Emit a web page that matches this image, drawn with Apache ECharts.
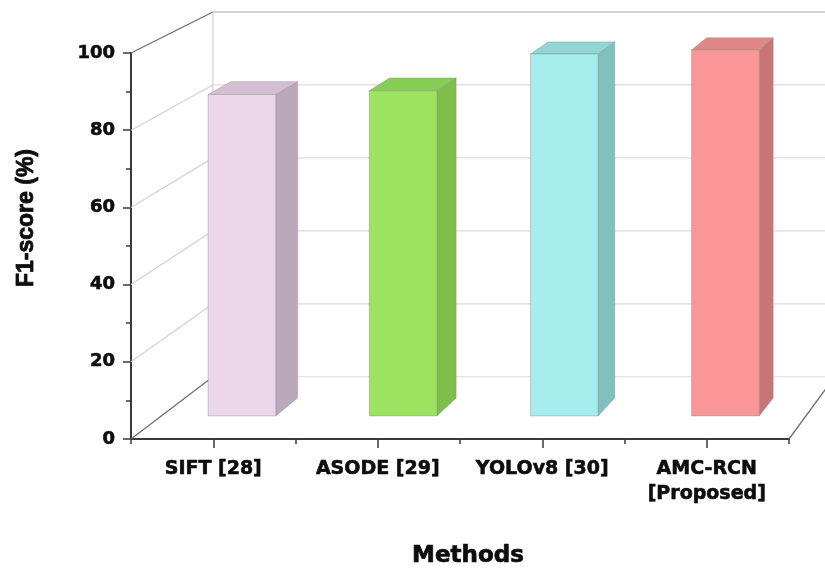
<!DOCTYPE html>
<html>
<head>
<meta charset="utf-8">
<script src="https://cdn.jsdelivr.net/npm/echarts@6/dist/echarts.min.js"></script>
<style>
  html, body { margin: 0; padding: 0; background: #ffffff; }
  #chart { width: 825px; height: 568px; }
</style>
</head>
<body>
<div id="chart"></div>
<script>
// ---- data ----
const methods = ['SIFT [28]', 'ASODE [29]', 'YOLOv8 [30]', 'AMC-RCN\n[Proposed]'];
const f1Scores = [85, 86, 95.7, 96.8];
const yTickValues = [0, 20, 40, 60, 80, 100];

// ---- bar shading (front face, right side, top) ----
const faceColors = ['#ecd6ea', '#9ce360', '#a6eeed', '#f99798'];
const sideColors = ['#bba8ba', '#7dbf4a', '#80c0bf', '#c67676'];
const topColors  = ['#d4bfd2', '#87cd55', '#90d6d5', '#e08788'];

// ---- perspective box: vanishing point and depth scale factors ----
const VP = [1620, -693];
const BACK_S = 0.945;        // back wall
const BAR_FRONT_S = 0.9796;  // front face of each bar
const BAR_BACK_S = 0.9637;   // rear face of each bar
function proj(p, s) {
  return [VP[0] + s * (p[0] - VP[0]), VP[1] + s * (p[1] - VP[1])];
}

const FONT = 'DejaVu Sans';
const INK = '#0d0d0d';
const chart = echarts.init(document.getElementById('chart'), null, { renderer: 'canvas' });

function line(a, b, color, width) {
  return {
    type: 'line',
    shape: { x1: a[0], y1: a[1], x2: b[0], y2: b[1] },
    style: { stroke: color, lineWidth: width }
  };
}

// walls, floor and grid lines of the 3D box
function renderBox(params, api) {
  const cs = params.coordSys;
  const x0 = cs.x, x1 = cs.x + cs.width;
  const children = [];
  const yBottom = api.coord([0, 0])[1];
  const yTop = api.coord([0, 100])[1];
  yTickValues.forEach(function (v) {
    const y = api.coord([0, v])[1];
    const fl = [x0, y];
    const bl = proj(fl, BACK_S);
    const br = proj([x1, y], BACK_S);
    const edge = (v === 0 || v === 100);
    children.push(line(bl, br, v === 100 ? '#c4c4c4' : '#dcdcdc', v === 100 ? 1.6 : 1.2));
    children.push(line(fl, bl, edge ? '#6e6e6e' : '#d2d2d2', edge ? 1.3 : 1.2));
  });
  children.push(line(proj([x0, yBottom], BACK_S), proj([x0, yTop], BACK_S), '#d0d0d0', 1.2));
  children.push(line([x1, yBottom], proj([x1, yBottom], BACK_S), '#6e6e6e', 1.3));
  return { type: 'group', children: children };
}

// one 3D bar per method
function renderBar(params, api) {
  const i = api.value(0);
  const v = api.value(1);
  const top = api.coord([i, v]);
  const base = api.coord([i, 0]);
  const w = api.size([1, 0])[0] * 0.42;
  const xl = top[0] - w / 2, xr = top[0] + w / 2;
  const fTL = proj([xl, top[1]], BAR_FRONT_S);
  const fTR = proj([xr, top[1]], BAR_FRONT_S);
  const fBR = proj([xr, base[1]], BAR_FRONT_S);
  const fBL = proj([xl, base[1]], BAR_FRONT_S);
  const bTL = proj([xl, top[1]], BAR_BACK_S);
  const bTR = proj([xr, top[1]], BAR_BACK_S);
  const bBR = proj([xr, base[1]], BAR_BACK_S);
  const edge = 'rgba(140,140,140,0.55)';
  return {
    type: 'group',
    children: [
      { type: 'polygon', shape: { points: [fTR, bTR, bBR, fBR] },
        style: { fill: sideColors[i], stroke: edge, lineWidth: 0.8 } },
      { type: 'polygon', shape: { points: [fTL, bTL, bTR, fTR] },
        style: { fill: topColors[i], stroke: edge, lineWidth: 0.8 } },
      { type: 'polygon', shape: { points: [fTL, fTR, fBR, fBL] },
        style: { fill: faceColors[i], stroke: edge, lineWidth: 0.8 } }
    ]
  };
}

const option = {
  animation: false,
  backgroundColor: '#ffffff',
  grid: { left: 131, right: 36, top: 53, bottom: 129, outerBoundsMode: 'none', containLabel: false },
  xAxis: [
    {
      type: 'category',
      data: methods,
      boundaryGap: true,
      axisLine: { show: true, lineStyle: { color: '#3a3a3a', width: 2 } },
      axisTick: { show: true, alignWithLabel: true, length: 9, lineStyle: { color: '#3a3a3a', width: 1.5 } },
      axisLabel: {
        margin: 18, color: INK, fontFamily: FONT, fontWeight: 'bold', fontSize: 19,
        lineHeight: 25, interval: 0, textBorderColor: INK, textBorderWidth: 0.6
      },
      splitLine: { show: false }
    },
    {
      type: 'category',
      data: methods,
      position: 'bottom',
      boundaryGap: true,
      axisLine: { show: false },
      axisTick: { show: true, alignWithLabel: false, length: 5, lineStyle: { color: '#3a3a3a', width: 1.5 } },
      axisLabel: { show: false },
      splitLine: { show: false }
    }
  ],
  yAxis: {
    type: 'value',
    min: 0, max: 100, interval: 20,
    axisLine: { show: true, lineStyle: { color: '#3a3a3a', width: 2 } },
    axisTick: { show: true, length: 8, lineStyle: { color: '#3a3a3a', width: 1.5 } },
    minorTick: { show: true, splitNumber: 2, length: 5, lineStyle: { color: '#3a3a3a', width: 1.5 } },
    axisLabel: {
      margin: 16, color: INK, fontFamily: FONT, fontWeight: 'bold', fontSize: 18,
      textBorderColor: INK, textBorderWidth: 0.6
    },
    splitLine: { show: false }
  },
  graphic: [
    {
      type: 'text', x: 27, y: 218, rotation: Math.PI / 2,
      style: {
        text: 'F1-score (%)', fill: INK, font: 'bold 23px "Liberation Sans", Arial, sans-serif',
        align: 'center', verticalAlign: 'middle', stroke: INK, lineWidth: 0.8
      }
    },
    {
      type: 'text', x: 468, y: 556,
      style: {
        text: 'Methods', fill: INK, font: 'bold 23px "DejaVu Sans", sans-serif',
        align: 'center', verticalAlign: 'middle', stroke: INK, lineWidth: 0.7
      }
    }
  ],
  series: [
    {
      type: 'custom', name: 'box', z: 1, silent: true,
      renderItem: renderBox,
      data: [[0, 0]],
      encode: { x: 0, y: 1 }
    },
    {
      type: 'custom', name: 'F1-score', z: 3,
      renderItem: renderBar,
      data: methods.map(function (m, i) { return [i, f1Scores[i]]; }),
      encode: { x: 0, y: 1 }
    }
  ]
};

chart.setOption(option);
</script>
</body>
</html>
